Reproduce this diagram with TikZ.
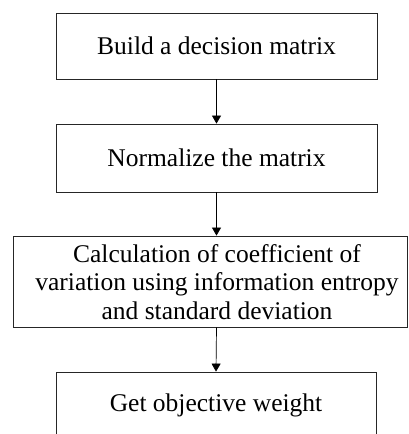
\documentclass[tikz,border=0pt]{standalone}
\usepackage{fontspec}
\setmainfont{Liberation Serif}
\usetikzlibrary{arrows.meta}
\begin{document}
\begin{tikzpicture}[x=1pt,y=1pt,
  stepbox/.style={draw=black!85, line width=0.8pt, inner sep=0pt, align=center,
    font=\fontsize{25.5}{28.5}\selectfont},
  steptext/.style={inner sep=0pt, align=center, font=\fontsize{25.5}{28.5}\selectfont},
  flow/.style={draw=black, line width=0.7pt, -{Triangle[length=8pt,width=9pt]}}]
  \useasboundingbox (0,0) rectangle (408,-434);
  \clip (0,0) rectangle (408,-434);
  \node[stepbox, minimum width=321, minimum height=66] (b1) at (216.5,-46) {Build a decision matrix};
  \node[stepbox, minimum width=321, minimum height=68] (b2) at (216.5,-158) {Normalize the matrix};
  \node[stepbox, minimum width=394, minimum height=91] (b3) at (210,-281.5) {};
  \node[steptext] (t3) at (217,-282)
    {Calculation of coefficient of\\variation using information entropy\\and standard deviation};
  \node[stepbox, minimum width=320, minimum height=66] (b4) at (216,-405) {Get objective weight};
  \draw[flow] (b1.south) -- (b2.north);
  \draw[flow] (b2.south) -- (b2.south |- b3.north);
  \draw[flow] (b2.south |- b3.south) -- (b4.north);
\end{tikzpicture}
\end{document}
